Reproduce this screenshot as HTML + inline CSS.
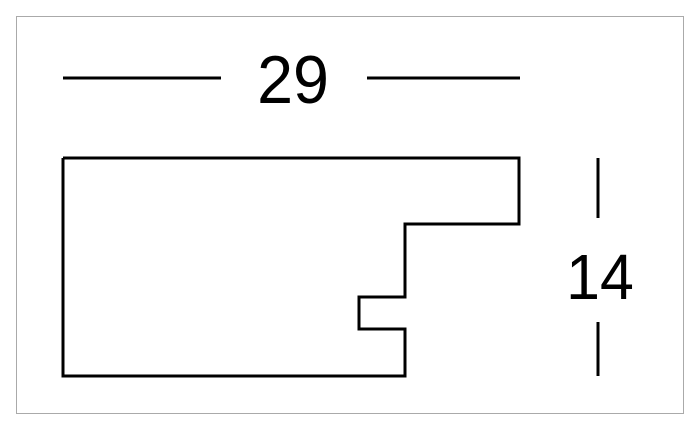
<!DOCTYPE html>
<html><head><style>html,body{margin:0;padding:0;background:#fff;width:700px;height:433px;overflow:hidden}</style></head>
<body>
<svg width="700" height="433" xmlns="http://www.w3.org/2000/svg">
<rect x="16.5" y="16.5" width="667" height="397" fill="#fff" stroke="#aaa" stroke-width="1"/>
<g stroke="#000" stroke-width="3" fill="none">
<line x1="63" y1="78" x2="221" y2="78"/>
<line x1="367" y1="78" x2="520" y2="78"/>
<polyline points="63,158 519,158 519,224 405,224 405,297 359,297 359,329 405,329 405,376 63,376 63,158"/>
<line x1="598" y1="158" x2="598" y2="218"/>
<line x1="598" y1="322" x2="598" y2="376"/>
</g>
<text x="293" y="103" font-family="Liberation Sans, sans-serif" font-size="68" text-anchor="middle" transform="translate(293 0) scale(0.95 1) translate(-293 0)">29</text>
<text x="600" y="299" font-family="Liberation Sans, sans-serif" font-size="64" text-anchor="middle" transform="translate(600 0) scale(0.95 1) translate(-600 0)">14</text>
</svg>
</body></html>
